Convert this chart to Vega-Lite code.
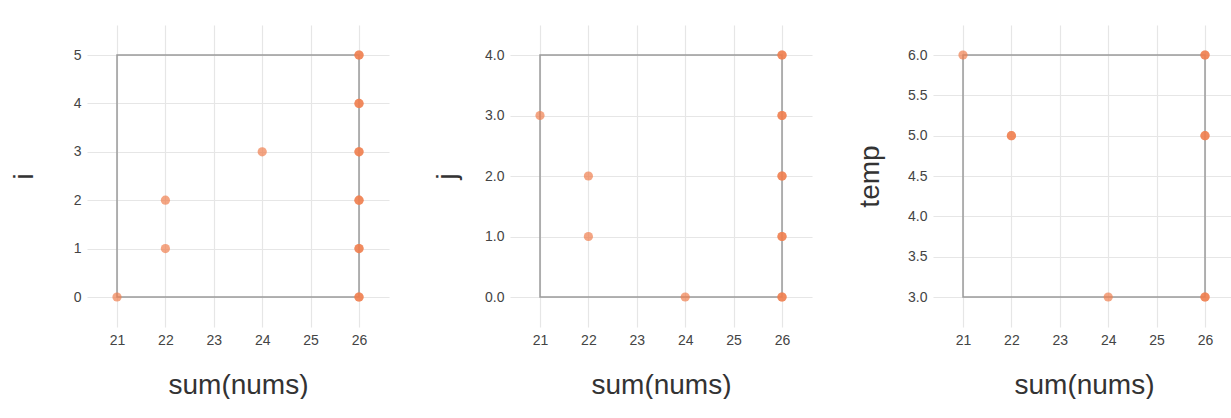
{
  "$schema": "https://vega.github.io/schema/vega-lite/v6.json",
  "padding": {"left": 10, "top": 25, "right": 0, "bottom": 0},
  "background": "white",
  "config": {
    "view": {"stroke": null},
    "axis": {
      "domain": false,
      "ticks": false,
      "gridColor": "#e6e6e6",
      "gridWidth": 1.2,
      "labelFont": "Liberation Sans",
      "labelFontSize": 14,
      "labelColor": "#444444",
      "labelPadding": 6,
      "titleFont": "Liberation Sans",
      "titleFontSize": 28,
      "titleFontWeight": "normal",
      "titleColor": "#333333"
    },
    "axisX": {"titlePadding": 24},
    "axisY": {"titlePadding": 19, "minExtent": 30, "maxExtent": 30},
    "concat": {"spacing": 44}
  },
  "hconcat": [
    {
      "width": 302,
      "height": 302,
      "data": {"values": [
        {"s": 21, "v": 0}, {"s": 22, "v": 1}, {"s": 22, "v": 2}, {"s": 24, "v": 3},
        {"s": 26, "v": 0}, {"s": 26, "v": 0}, {"s": 26, "v": 1}, {"s": 26, "v": 1},
        {"s": 26, "v": 2}, {"s": 26, "v": 2}, {"s": 26, "v": 3}, {"s": 26, "v": 3},
        {"s": 26, "v": 4}, {"s": 26, "v": 4}, {"s": 26, "v": 5}, {"s": 26, "v": 5}
      ]},
      "layer": [
        {
          "transform": [{"aggregate": [
            {"op": "min", "field": "s", "as": "s0"}, {"op": "max", "field": "s", "as": "s1"},
            {"op": "min", "field": "v", "as": "v0"}, {"op": "max", "field": "v", "as": "v1"}
          ]}],
          "mark": {"type": "rect", "fill": "transparent", "stroke": "#9a9a9a", "strokeWidth": 1.5},
          "encoding": {
            "x": {"field": "s0", "type": "quantitative", "title": "sum(nums)", "scale": {"padding": 30, "nice": false, "zero": false}, "axis": {"values": [21, 22, 23, 24, 25, 26]}},
            "x2": {"field": "s1"},
            "y": {"field": "v0", "type": "quantitative", "title": "i", "scale": {"padding": 30, "nice": false, "zero": false}, "axis": {"values": [0, 1, 2, 3, 4, 5]}},
            "y2": {"field": "v1"}
          }
        },
        {
          "mark": {"type": "circle", "size": 85, "color": "#ef7f4e", "opacity": 0.7},
          "encoding": {
            "x": {"field": "s", "type": "quantitative", "title": "sum(nums)"},
            "y": {"field": "v", "type": "quantitative", "title": "i"}
          }
        }
      ]
    },
    {
      "width": 302,
      "height": 302,
      "data": {"values": [
        {"s": 21, "v": 3}, {"s": 22, "v": 1}, {"s": 22, "v": 2}, {"s": 24, "v": 0},
        {"s": 26, "v": 0}, {"s": 26, "v": 0}, {"s": 26, "v": 1}, {"s": 26, "v": 1},
        {"s": 26, "v": 2}, {"s": 26, "v": 2}, {"s": 26, "v": 3}, {"s": 26, "v": 3},
        {"s": 26, "v": 4}, {"s": 26, "v": 4}
      ]},
      "layer": [
        {
          "transform": [{"aggregate": [
            {"op": "min", "field": "s", "as": "s0"}, {"op": "max", "field": "s", "as": "s1"},
            {"op": "min", "field": "v", "as": "v0"}, {"op": "max", "field": "v", "as": "v1"}
          ]}],
          "mark": {"type": "rect", "fill": "transparent", "stroke": "#9a9a9a", "strokeWidth": 1.5},
          "encoding": {
            "x": {"field": "s0", "type": "quantitative", "title": "sum(nums)", "scale": {"padding": 30, "nice": false, "zero": false}, "axis": {"values": [21, 22, 23, 24, 25, 26]}},
            "x2": {"field": "s1"},
            "y": {"field": "v0", "type": "quantitative", "title": "j", "scale": {"padding": 30, "nice": false, "zero": false}, "axis": {"values": [0, 0.5, 1, 1.5, 2, 2.5, 3, 3.5, 4], "format": ".1f"}},
            "y2": {"field": "v1"}
          }
        },
        {
          "mark": {"type": "circle", "size": 85, "color": "#ef7f4e", "opacity": 0.7},
          "encoding": {
            "x": {"field": "s", "type": "quantitative", "title": "sum(nums)"},
            "y": {"field": "v", "type": "quantitative", "title": "j"}
          }
        }
      ]
    },
    {
      "width": 302,
      "height": 302,
      "data": {"values": [
        {"s": 21, "v": 6}, {"s": 22, "v": 5}, {"s": 22, "v": 5}, {"s": 24, "v": 3},
        {"s": 26, "v": 3}, {"s": 26, "v": 3}, {"s": 26, "v": 5}, {"s": 26, "v": 5},
        {"s": 26, "v": 6}, {"s": 26, "v": 6}
      ]},
      "layer": [
        {
          "transform": [{"aggregate": [
            {"op": "min", "field": "s", "as": "s0"}, {"op": "max", "field": "s", "as": "s1"},
            {"op": "min", "field": "v", "as": "v0"}, {"op": "max", "field": "v", "as": "v1"}
          ]}],
          "mark": {"type": "rect", "fill": "transparent", "stroke": "#9a9a9a", "strokeWidth": 1.5},
          "encoding": {
            "x": {"field": "s0", "type": "quantitative", "title": "sum(nums)", "scale": {"padding": 30, "nice": false, "zero": false}, "axis": {"values": [21, 22, 23, 24, 25, 26]}},
            "x2": {"field": "s1"},
            "y": {"field": "v0", "type": "quantitative", "title": "temp", "scale": {"padding": 30, "nice": false, "zero": false}, "axis": {"values": [3, 3.5, 4, 4.5, 5, 5.5, 6], "format": ".1f"}},
            "y2": {"field": "v1"}
          }
        },
        {
          "mark": {"type": "circle", "size": 85, "color": "#ef7f4e", "opacity": 0.7},
          "encoding": {
            "x": {"field": "s", "type": "quantitative", "title": "sum(nums)"},
            "y": {"field": "v", "type": "quantitative", "title": "temp"}
          }
        }
      ]
    }
  ]
}
